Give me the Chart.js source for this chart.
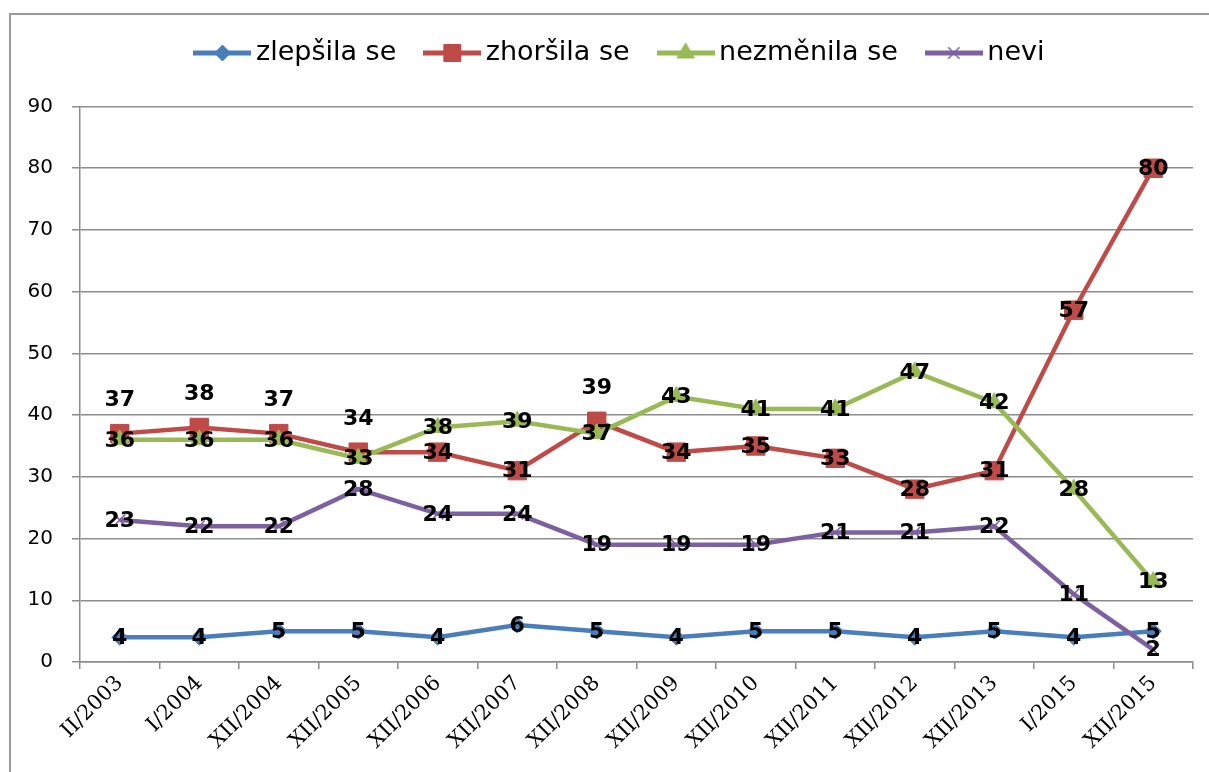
<!DOCTYPE html>
<html>
<head>
<meta charset="utf-8">
<script src="https://cdn.jsdelivr.net/npm/chart.js@4/dist/chart.umd.min.js"></script>
<style>
  html, body { margin: 0; padding: 0; background: #fff; overflow: hidden; }
  #wrap { position: relative; width: 1209px; height: 772px; }
  #frame {
    position: absolute; left: 9px; top: 13px; width: 1300px; height: 900px;
    border: 2px solid #9a9a9a; pointer-events: none;
  }
</style>
</head>
<body>
<div id="wrap">
  <canvas id="chart" width="1209" height="772"></canvas>
  <div id="frame"></div>
</div>
<script>
const categories = ["II/2003", "I/2004", "XII/2004", "XII/2005", "XII/2006", "XII/2007", "XII/2008",
  "XII/2009", "XII/2010", "XII/2011", "XII/2012", "XII/2013", "I/2015", "XII/2015"];
const better = [4, 4, 5, 5, 4, 6, 5, 4, 5, 5, 4, 5, 4, 5];
const worse = [37, 38, 37, 34, 34, 31, 39, 34, 35, 33, 28, 31, 57, 80];
const same = [36, 36, 36, 33, 38, 39, 37, 43, 41, 41, 47, 42, 28, 13];
const dontKnow = [23, 22, 22, 28, 24, 24, 19, 19, 19, 21, 21, 22, 11, 2];
const yTicks = [0, 10, 20, 30, 40, 50, 60, 70, 80, 90];

// labels of the red series that sit above the marker
const worseLabelsAbove = [0, 1, 2, 3, 6];

const BLUE = "#4a7ebb", RED = "#be4b48", GREEN = "#98b954", PURPLE = "#7d60a0";

// legend icon: a short line with the series marker in the middle
function makeIcon(color, style, radius) {
  const c = document.createElement("canvas");
  c.width = 58; c.height = 26;
  const ctx = c.getContext("2d");
  ctx.strokeStyle = color;
  ctx.lineWidth = 5;
  ctx.beginPath();
  ctx.moveTo(0, 13); ctx.lineTo(58, 13);
  ctx.stroke();
  ctx.fillStyle = color;
  ctx.lineWidth = style === "crossRot" ? 1.5 : 1;
  Chart.helpers.drawPoint(ctx, { pointStyle: style, radius: radius, rotation: 0, borderWidth: ctx.lineWidth }, 29, 13);
  return c;
}

const valueLabels = {
  id: "valueLabels",
  afterLayout(chart) {
    // nudge the legend row a little right, as in the original
    chart.legend.left += 27;
    chart.legend.right += 27;
  },
  afterDatasetsDraw(chart) {
    const ctx = chart.ctx;
    ctx.save();
    ctx.font = "bold 22px 'DejaVu Sans'";
    ctx.fillStyle = "#000";
    ctx.textAlign = "center";
    ctx.textBaseline = "middle";
    chart.data.datasets.forEach((ds, di) => {
      const meta = chart.getDatasetMeta(di);
      meta.data.forEach((pt, i) => {
        const above = ds.labelsAbove && ds.labelsAbove.includes(i);
        ctx.fillText(String(ds.data[i]), pt.x, pt.y + (above ? -33 : 1));
      });
    });
    ctx.restore();
  }
};

function series(label, data, color, style, radius, order) {
  return {
    label: label,
    data: data,
    borderColor: color,
    backgroundColor: color,
    borderWidth: 4.5,
    pointStyle: style,
    pointRadius: radius,
    pointHoverRadius: radius,
    pointBorderWidth: style === "crossRot" ? 1.5 : 1,
    pointBackgroundColor: color,
    pointBorderColor: color,
    tension: 0,
    order: order
  };
}

const datasets = [
  series("zlepšila se", better, BLUE, "rectRot", 8, 4),
  series("zhoršila se", worse, RED, "rect", 13, 3),
  series("nezměnila se", same, GREEN, "triangle", 10, 2),
  series("nevi", dontKnow, PURPLE, "crossRot", 8, 1)
];
datasets[1].labelsAbove = worseLabelsAbove;

const icons = [
  makeIcon(BLUE, "rectRot", 8),
  makeIcon(RED, "rect", 12),
  makeIcon(GREEN, "triangle", 10),
  makeIcon(PURPLE, "crossRot", 8)
];

new Chart(document.getElementById("chart"), {
  type: "line",
  data: { labels: categories, datasets: datasets },
  plugins: [valueLabels],
  options: {
    responsive: false,
    animation: false,
    layout: { padding: { top: 3.5, right: 16, left: 0, bottom: 0 } },
    plugins: {
      tooltip: { enabled: false },
      title: {
        display: true, text: "", weight: 500, padding: 0,
        font: { size: 10, lineHeight: 3.0 }
      },
      legend: {
        position: "top",
        labels: {
          usePointStyle: true,
          pointStyleWidth: 40,
          padding: 36,
          color: "#000",
          font: { family: "'DejaVu Sans'", size: 27 },
          generateLabels(chart) {
            return chart.data.datasets.map((ds, i) => ({
              text: ds.label,
              datasetIndex: i,
              pointStyle: icons[i],
              fillStyle: ds.borderColor,
              strokeStyle: ds.borderColor,
              lineWidth: 0,
              hidden: false,
              fontColor: "#000"
            }));
          }
        }
      }
    },
    scales: {
      x: {
        offset: true,
        grid: { offset: true, drawOnChartArea: false, color: "#8c8c8c", lineWidth: 1.5, tickLength: 7 },
        border: { color: "#8c8c8c", width: 1.5 },
        ticks: {
          autoSkip: false, minRotation: 45, maxRotation: 45, padding: 2,
          color: "#000", font: { family: "'DejaVu Serif'", size: 21 }
        },
        afterFit(scale) { scale.height = 110; }
      },
      y: {
        min: 0,
        max: 90,
        afterBuildTicks(scale) { scale.ticks = yTicks.map(v => ({ value: v })); },
        grid: { color: "#8c8c8c", lineWidth: 1.5, tickLength: 8 },
        border: { color: "#8c8c8c", width: 1.5 },
        ticks: { padding: 19, color: "#000", font: { family: "'DejaVu Sans'", size: 20 } },
        afterFit(scale) { scale.width = 80; }
      }
    }
  }
});
</script>
</body>
</html>
